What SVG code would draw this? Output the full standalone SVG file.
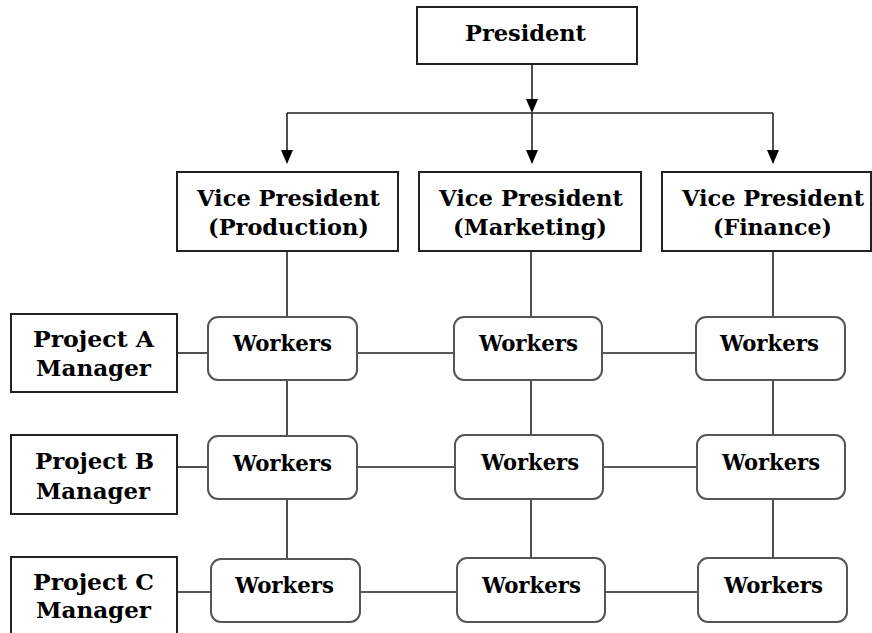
<svg xmlns="http://www.w3.org/2000/svg" width="872" height="633" viewBox="0 0 872 633">
  <defs>
    <style>
      .box { fill: #ffffff; stroke: #222222; stroke-width: 2; }
      .wbox { fill: #ffffff; stroke: #555555; stroke-width: 2; }
      .link { stroke: #222222; stroke-width: 1.6; fill: none; }
      .head { fill: #000000; }
      .lbl { font-family: "DejaVu Serif", "Liberation Serif", serif; font-weight: bold; font-size: 22px; fill: #000000; }
    </style>
  </defs>
  <rect width="872" height="633" fill="#ffffff"/>

  <!-- connectors -->
  <g id="connectors">
    <!-- president down to the distribution bus -->
    <line class="link" x1="532" y1="64" x2="532" y2="101"/>
    <path class="head" d="M526,99 L538,99 L532,113 Z"/>
    <line class="link" x1="287" y1="113" x2="773" y2="113"/>
    <!-- bus down to each vice president -->
    <line class="link" x1="287" y1="113" x2="287" y2="152"/>
    <path class="head" d="M281,150 L293,150 L287,164 Z"/>
    <line class="link" x1="532" y1="113" x2="532" y2="152"/>
    <path class="head" d="M526,150 L538,150 L532,164 Z"/>
    <line class="link" x1="773" y1="113" x2="773" y2="152"/>
    <path class="head" d="M767,150 L779,150 L773,164 Z"/>
    <!-- functional columns -->
    <line class="link" x1="287" y1="251" x2="287" y2="317"/>
    <line class="link" x1="287" y1="380" x2="287" y2="436"/>
    <line class="link" x1="287" y1="499" x2="287" y2="559"/>
    <line class="link" x1="531" y1="251" x2="531" y2="317"/>
    <line class="link" x1="531" y1="380" x2="531" y2="435"/>
    <line class="link" x1="531" y1="499" x2="531" y2="558"/>
    <line class="link" x1="773" y1="251" x2="773" y2="317"/>
    <line class="link" x1="773" y1="380" x2="773" y2="435"/>
    <line class="link" x1="773" y1="499" x2="773" y2="558"/>
    <!-- project rows -->
    <line class="link" x1="177" y1="353" x2="208" y2="353"/>
    <line class="link" x1="357" y1="353" x2="454" y2="353"/>
    <line class="link" x1="602" y1="353" x2="696" y2="353"/>
    <line class="link" x1="177" y1="467" x2="208" y2="467"/>
    <line class="link" x1="357" y1="467" x2="455" y2="467"/>
    <line class="link" x1="603" y1="467" x2="697" y2="467"/>
    <line class="link" x1="177" y1="592" x2="211" y2="592"/>
    <line class="link" x1="360" y1="592" x2="457" y2="592"/>
    <line class="link" x1="605" y1="592" x2="698" y2="592"/>
  </g>

  <g id="president">
    <rect class="box" x="417" y="7" width="220" height="57"/>
    <text class="lbl" x="465" y="41" textLength="121" lengthAdjust="spacingAndGlyphs">President</text>
  </g>

  <g id="vp-production">
    <rect class="box" x="177" y="172" width="221" height="79"/>
    <text class="lbl" x="197" y="206" textLength="183" lengthAdjust="spacingAndGlyphs">Vice President</text>
    <text class="lbl" x="208" y="235" textLength="161" lengthAdjust="spacingAndGlyphs">(Production)</text>
  </g>
  <g id="vp-marketing">
    <rect class="box" x="419" y="172" width="222" height="79"/>
    <text class="lbl" x="439" y="206" textLength="184" lengthAdjust="spacingAndGlyphs">Vice President</text>
    <text class="lbl" x="453" y="235" textLength="154" lengthAdjust="spacingAndGlyphs">(Marketing)</text>
  </g>
  <g id="vp-finance">
    <rect class="box" x="662" y="172" width="209" height="79"/>
    <text class="lbl" x="682" y="206" textLength="182" lengthAdjust="spacingAndGlyphs">Vice President</text>
    <text class="lbl" x="713" y="235" textLength="119" lengthAdjust="spacingAndGlyphs">(Finance)</text>
  </g>

  <g id="project-a">
    <rect class="box" x="11" y="314" width="166" height="78"/>
    <text class="lbl" x="33" y="347" textLength="121" lengthAdjust="spacingAndGlyphs">Project A</text>
    <text class="lbl" x="36" y="376" textLength="115" lengthAdjust="spacingAndGlyphs">Manager</text>
  </g>
  <g id="project-b">
    <rect class="box" x="11" y="435" width="166" height="79"/>
    <text class="lbl" x="35" y="469" textLength="119" lengthAdjust="spacingAndGlyphs">Project B</text>
    <text class="lbl" x="36" y="499" textLength="114" lengthAdjust="spacingAndGlyphs">Manager</text>
  </g>
  <g id="project-c">
    <rect class="box" x="11" y="557" width="166" height="90"/>
    <text class="lbl" x="33" y="590" textLength="121" lengthAdjust="spacingAndGlyphs">Project C</text>
    <text class="lbl" x="36" y="618" textLength="115" lengthAdjust="spacingAndGlyphs">Manager</text>
  </g>

  <g id="workers-a-production">
    <rect class="wbox" x="208" y="317" width="149" height="63" rx="10"/>
    <text class="lbl" x="233" y="351" textLength="99" lengthAdjust="spacingAndGlyphs">Workers</text>
  </g>
  <g id="workers-a-marketing">
    <rect class="wbox" x="454" y="317" width="148" height="63" rx="10"/>
    <text class="lbl" x="479" y="351" textLength="99" lengthAdjust="spacingAndGlyphs">Workers</text>
  </g>
  <g id="workers-a-finance">
    <rect class="wbox" x="696" y="317" width="149" height="63" rx="10"/>
    <text class="lbl" x="720" y="351" textLength="99" lengthAdjust="spacingAndGlyphs">Workers</text>
  </g>

  <g id="workers-b-production">
    <rect class="wbox" x="208" y="436" width="149" height="63" rx="10"/>
    <text class="lbl" x="233" y="471" textLength="99" lengthAdjust="spacingAndGlyphs">Workers</text>
  </g>
  <g id="workers-b-marketing">
    <rect class="wbox" x="455" y="435" width="148" height="64" rx="10"/>
    <text class="lbl" x="481" y="470" textLength="98" lengthAdjust="spacingAndGlyphs">Workers</text>
  </g>
  <g id="workers-b-finance">
    <rect class="wbox" x="697" y="435" width="148" height="64" rx="10"/>
    <text class="lbl" x="722" y="470" textLength="98" lengthAdjust="spacingAndGlyphs">Workers</text>
  </g>

  <g id="workers-c-production">
    <rect class="wbox" x="211" y="559" width="149" height="63" rx="10"/>
    <text class="lbl" x="235" y="593" textLength="99" lengthAdjust="spacingAndGlyphs">Workers</text>
  </g>
  <g id="workers-c-marketing">
    <rect class="wbox" x="457" y="558" width="148" height="64" rx="10"/>
    <text class="lbl" x="482" y="593" textLength="99" lengthAdjust="spacingAndGlyphs">Workers</text>
  </g>
  <g id="workers-c-finance">
    <rect class="wbox" x="698" y="558" width="149" height="64" rx="10"/>
    <text class="lbl" x="724" y="593" textLength="99" lengthAdjust="spacingAndGlyphs">Workers</text>
  </g>
</svg>
